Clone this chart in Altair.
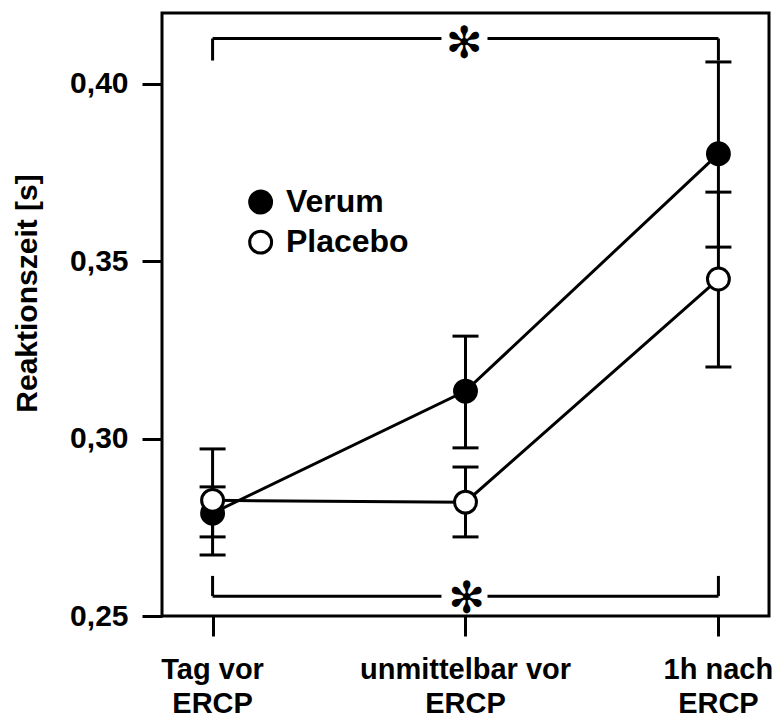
import altair as alt
import pandas as pd

# ---- data ----
categories = [["Tag vor", "ERCP"], ["unmittelbar vor", "ERCP"], ["1h nach", "ERCP"]]
x_pos = [0, 1, 2]
series_names = ["Verum", "Placebo"]
verum_mean = [0.2790, 0.3134, 0.3803]
verum_lo = [0.2723, 0.2974, 0.3540]
verum_hi = [0.2864, 0.3289, 0.4062]
placebo_mean = [0.2826, 0.2821, 0.3450]
placebo_lo = [0.2672, 0.2723, 0.3202]
placebo_hi = [0.2971, 0.2920, 0.3695]
y_ticks = [0.25, 0.30, 0.35, 0.40]

# significance brackets (top and bottom), star in the middle
bracket_start = [0, 0]
bracket_end = [2, 2]
bracket_line_y = [0.4128, 0.2556]
bracket_foot_y = [0.4066, 0.2613]
bracket_gap_left = [0.905, 0.905]
bracket_gap_right = [1.087, 1.087]
star_x = [0.995, 1.005]
star_y = [0.4110, 0.2544]

# in-plot legend
legend_x = [0.19, 0.19]
legend_y = [0.3667, 0.3554]
legend_text_x = [0.29, 0.29]

# ---- tables ----
rows = []
for name, m, lo, hi in [("Verum", verum_mean, verum_lo, verum_hi),
                        ("Placebo", placebo_mean, placebo_lo, placebo_hi)]:
    for x, a, b, c in zip(x_pos, m, lo, hi):
        rows.append({"series": name, "x": x, "mean": a, "lo": b, "hi": c})
df = pd.DataFrame(rows)

seg = []
for s, e, ly, fy, gl, gr in zip(bracket_start, bracket_end, bracket_line_y,
                                bracket_foot_y, bracket_gap_left, bracket_gap_right):
    seg.append({"x": s, "x2": gl, "y": ly, "y2": ly})
    seg.append({"x": gr, "x2": e, "y": ly, "y2": ly})
    seg.append({"x": s, "x2": s, "y": ly, "y2": fy})
    seg.append({"x": e, "x2": e, "y": ly, "y2": fy})
seg_df = pd.DataFrame(seg)
star_df = pd.DataFrame({"x": star_x, "y": star_y, "t": ["✻", "✻"]})
leg_df = pd.DataFrame({"series": series_names, "x": legend_x, "y": legend_y, "tx": legend_text_x})
cat_df = pd.DataFrame({"x": x_pos,
                       "line1": [c[0] for c in categories],
                       "line2": [c[1] for c in categories]})

xscale = alt.Scale(domain=[-0.2, 2.2], nice=False, zero=False)
yscale = alt.Scale(domain=[0.25, 0.42], nice=False, zero=False)
fill_scale = alt.Scale(domain=series_names, range=["black", "white"])

X = alt.X("x:Q", scale=xscale, title=None,
          axis=alt.Axis(values=x_pos, labels=False))
Y = alt.Y("mean:Q", scale=yscale, title="Reaktionszeit [s]",
          axis=alt.Axis(values=y_ticks,
                        labelExpr="replace(format(datum.value, '.2f'), '.', ',')",
                        labelPadding=14, titleX=-120, titleY=280))

base = alt.Chart(df)

whisker = base.mark_rule(color="black", strokeWidth=3).encode(
    x=X, y=alt.Y("lo:Q", scale=yscale), y2="hi:Q")
cap_lo = base.mark_tick(color="black", orient="horizontal", size=26, thickness=3, opacity=1).encode(
    x=X, y=alt.Y("lo:Q", scale=yscale))
cap_hi = base.mark_tick(color="black", orient="horizontal", size=26, thickness=3, opacity=1).encode(
    x=X, y=alt.Y("hi:Q", scale=yscale))
lines = base.mark_line(color="black", strokeWidth=3).encode(
    x=X, y=Y, detail="series:N", order="x:Q")
points = base.mark_point(shape="circle", size=480, stroke="black", strokeWidth=3,
                         filled=True, opacity=1).encode(
    x=X, y=Y,
    fill=alt.Fill("series:N", scale=fill_scale, legend=None))

brackets = alt.Chart(seg_df).mark_rule(color="black", strokeWidth=3).encode(
    x=alt.X("x:Q", scale=xscale), x2="x2:Q",
    y=alt.Y("y:Q", scale=yscale), y2="y2:Q")
stars = alt.Chart(star_df).mark_text(font="DejaVu Sans", fontSize=44, color="black",
                                     baseline="middle", align="center").encode(
    x=alt.X("x:Q", scale=xscale), y=alt.Y("y:Q", scale=yscale), text="t:N")

leg_pts = alt.Chart(leg_df).mark_point(shape="circle", size=480, stroke="black", strokeWidth=3,
                                       filled=True, opacity=1).encode(
    x=alt.X("x:Q", scale=xscale), y=alt.Y("y:Q", scale=yscale),
    fill=alt.Fill("series:N", scale=fill_scale, legend=None))
leg_txt = alt.Chart(leg_df).mark_text(font="Liberation Sans", fontWeight="bold", fontSize=32,
                                      align="left", baseline="middle", color="black").encode(
    x=alt.X("tx:Q", scale=xscale), y=alt.Y("y:Q", scale=yscale), text="series:N")

# category labels under the x axis (two lines each)
cat_base = alt.Chart(cat_df)
cat1 = cat_base.mark_text(font="Liberation Sans", fontWeight="bold", fontSize=29,
                          align="center", baseline="alphabetic", color="black").encode(
    x=alt.X("x:Q", scale=xscale), y=alt.value(666), text="line1:N")
cat2 = cat_base.mark_text(font="Liberation Sans", fontWeight="bold", fontSize=29,
                          align="center", baseline="alphabetic", color="black").encode(
    x=alt.X("x:Q", scale=xscale), y=alt.value(700), text="line2:N")

chart = alt.layer(whisker, cap_lo, cap_hi, lines, points, brackets, stars, leg_pts, leg_txt,
                  cat1, cat2).properties(
    width=607, height=603,
    background="white",
    autosize=alt.AutoSizeParams(type="none"),
    padding={"left": 162, "top": 13, "right": 8, "bottom": 102},
).configure_view(
    stroke="black", strokeWidth=3
).configure_axis(
    domain=False, grid=False, tickColor="black", tickWidth=3, tickSize=20,
    labelFont="Liberation Sans", labelFontWeight="bold", labelFontSize=30, labelColor="black",
    titleFont="Liberation Sans", titleFontWeight="bold", titleFontSize=30, titleColor="black",
)

chart.save("out.html", embed_options={"renderer": "svg", "actions": False})
